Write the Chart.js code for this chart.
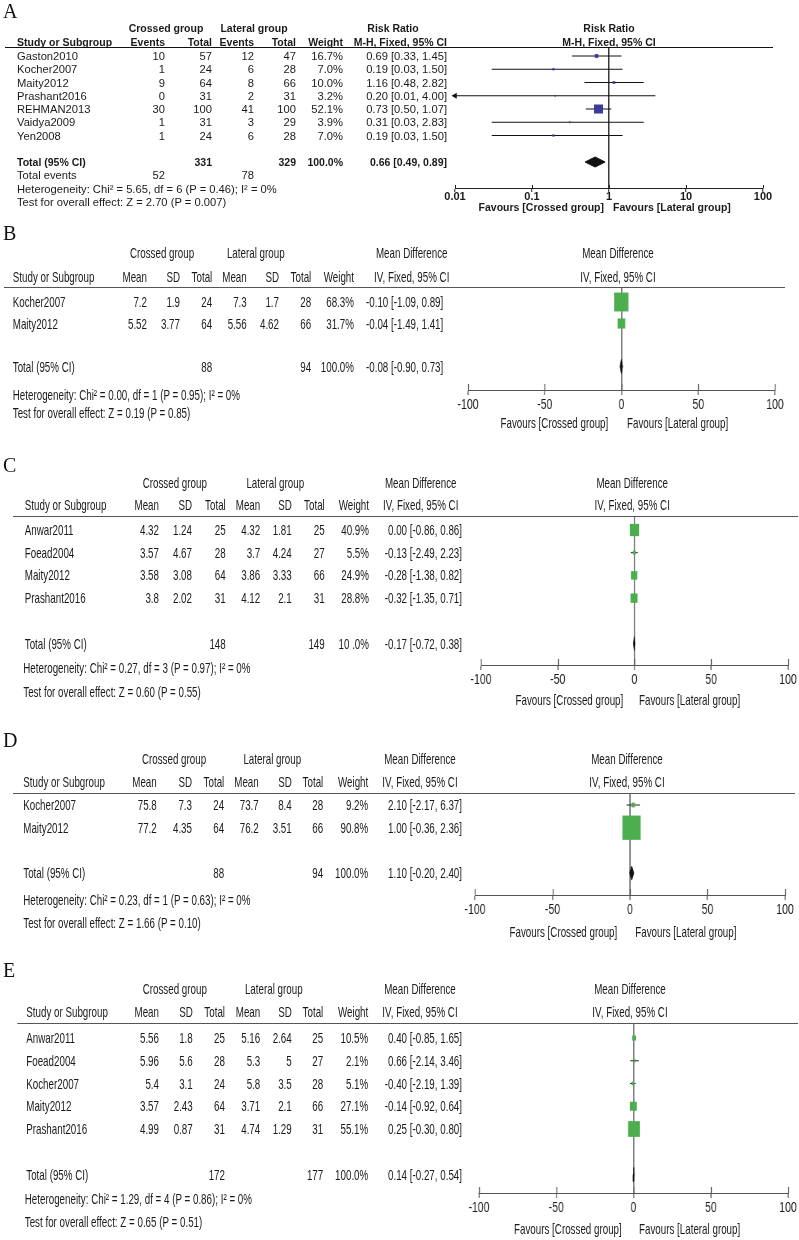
<!DOCTYPE html>
<html>
<head>
<meta charset="utf-8">
<script src="https://cdn.jsdelivr.net/npm/chart.js@4.4.1/dist/chart.umd.min.js"></script>
<style>
body { margin: 0; background: #fff; }
#fig { position: relative; width: 799px; height: 1240px; overflow: hidden; background: #fff; }
.panel { position: absolute; left: 0; transform-origin: 0 0; }
.panel canvas { position: absolute; left: 0; top: 0; }
.t { position: absolute; white-space: nowrap; color: #1a1a1a; }
.letter { position: absolute; left: 3px; font: 20px "Liberation Serif", "Times New Roman", serif; line-height: 24px; color: #111; }
</style>
</head>
<body>
<div id="fig"></div>
<script>
// ---- A: complications, risk ratio ----
var studiesA = ["Gaston2010", "Kocher2007", "Maity2012", "Prashant2016", "REHMAN2013", "Vaidya2009", "Yen2008"];
var crossEventsA = [10, 1, 9, 0, 30, 1, 1];
var crossTotalA = [57, 24, 64, 31, 100, 31, 24];
var latEventsA = [12, 6, 8, 2, 41, 3, 6];
var latTotalA = [47, 28, 66, 31, 100, 29, 28];
var weightA = [16.7, 7.0, 10.0, 3.2, 52.1, 3.9, 7.0];
var rrA = [0.69, 0.19, 1.16, 0.20, 0.73, 0.31, 0.19];
var loA = [0.33, 0.03, 0.48, 0.01, 0.50, 0.03, 0.03];
var hiA = [1.45, 1.50, 2.82, 4.00, 1.07, 2.83, 1.50];
var totalA = [0.66, 0.49, 0.89];
var totalNA = [331, 329];
var totalEventsA = [52, 78];
var hetA = "Heterogeneity: Chi\u00b2 = 5.65, df = 6 (P = 0.46); I\u00b2 = 0%";
var testA = "Test for overall effect: Z = 2.70 (P = 0.007)";
var rrTicks = [0.01, 0.1, 1, 10, 100];

// ---- B ----
var studiesB = ["Kocher2007", "Maity2012"];
var crossMeanB = [7.2, 5.52], crossSdB = [1.9, 3.77], crossNB = [24, 64];
var latMeanB = [7.3, 5.56], latSdB = [1.7, 4.62], latNB = [28, 66];
var weightB = [68.3, 31.7];
var mdB = [-0.10, -0.04], loB = [-1.09, -1.49], hiB = [0.89, 1.41];
var totalB = [-0.08, -0.90, 0.73], totalNB = [88, 94];
var hetB = "Heterogeneity: Chi\u00b2 = 0.00, df = 1 (P = 0.95); I\u00b2 = 0%";
var testB = "Test for overall effect: Z = 0.19 (P = 0.85)";

// ---- C ----
var studiesC = ["Anwar2011", "Foead2004", "Maity2012", "Prashant2016"];
var crossMeanC = [4.32, 3.57, 3.58, 3.8], crossSdC = [1.24, 4.67, 3.08, 2.02], crossNC = [25, 28, 64, 31];
var latMeanC = [4.32, 3.7, 3.86, 4.12], latSdC = [1.81, 4.24, 3.33, 2.1], latNC = [25, 27, 66, 31];
var weightC = [40.9, 5.5, 24.9, 28.8];
var mdC = [0.00, -0.13, -0.28, -0.32], loC = [-0.86, -2.49, -1.38, -1.35], hiC = [0.86, 2.23, 0.82, 0.71];
var totalC = [-0.17, -0.72, 0.38], totalNC = [148, 149];
var hetC = "Heterogeneity: Chi\u00b2 = 0.27, df = 3 (P = 0.97); I\u00b2 = 0%";
var testC = "Test for overall effect: Z = 0.60 (P = 0.55)";

// ---- D ----
var studiesD = ["Kocher2007", "Maity2012"];
var crossMeanD = [75.8, 77.2], crossSdD = [7.3, 4.35], crossND = [24, 64];
var latMeanD = [73.7, 76.2], latSdD = [8.4, 3.51], latND = [28, 66];
var weightD = [9.2, 90.8];
var mdD = [2.10, 1.00], loD = [-2.17, -0.36], hiD = [6.37, 2.36];
var totalD = [1.10, -0.20, 2.40], totalND = [88, 94];
var hetD = "Heterogeneity: Chi\u00b2 = 0.23, df = 1 (P = 0.63); I\u00b2 = 0%";
var testD = "Test for overall effect: Z = 1.66 (P = 0.10)";

// ---- E ----
var studiesE = ["Anwar2011", "Foead2004", "Kocher2007", "Maity2012", "Prashant2016"];
var crossMeanE = [5.56, 5.96, 5.4, 3.57, 4.99], crossSdE = [1.8, 5.6, 3.1, 2.43, 0.87], crossNE = [25, 28, 24, 64, 31];
var latMeanE = [5.16, 5.3, 5.8, 3.71, 4.74], latSdE = [2.64, 5, 3.5, 2.1, 1.29], latNE = [25, 27, 28, 66, 31];
var weightE = [10.5, 2.1, 5.1, 27.1, 55.1];
var mdE = [0.40, 0.66, -0.40, -0.14, 0.25], loE = [-0.85, -2.14, -2.19, -0.92, -0.30], hiE = [1.65, 3.46, 1.39, 0.64, 0.80];
var totalE = [0.14, -0.27, 0.54], totalNE = [172, 177];
var hetE = "Heterogeneity: Chi\u00b2 = 1.29, df = 4 (P = 0.86); I\u00b2 = 0%";
var testE = "Test for overall effect: Z = 0.65 (P = 0.51)";

var mdTicks = [-100, -50, 0, 50, 100];

// panels B-E are horizontally squeezed in the picture
var S = 0.75;
var TX = 0.87;   // extra condensing of the table text in B-E
var fig = document.getElementById('fig');

function addText(box, s, x, y, align, font, k) {
  var d = document.createElement('div');
  d.className = 't';
  d.textContent = s;
  d.style.font = font;
  d.style.lineHeight = '20px';
  d.style.left = x + 'px';
  d.style.top = (y - 10) + 'px';
  var sc = k ? ' scaleX(' + k + ')' : '';
  if (align === 'right') { d.style.transformOrigin = '100% 50%'; d.style.transform = 'translateX(-100%)' + sc; }
  else if (align === 'center') { d.style.transformOrigin = '50% 50%'; d.style.transform = 'translateX(-50%)' + sc; }
  else { d.style.transformOrigin = '0 50%'; if (k) d.style.transform = sc; }
  box.appendChild(d);
}

function addLine(box, x0, x1, y, color) {
  var d = document.createElement('div');
  d.style.position = 'absolute';
  d.style.left = x0 + 'px';
  d.style.width = (x1 - x0) + 'px';
  d.style.top = Math.round(y) + 'px';
  d.style.height = '0';
  d.style.borderTop = '1px solid ' + color;
  box.appendChild(d);
}

function addLetter(ch, y) {
  var d = document.createElement('div');
  d.className = 'letter';
  d.textContent = ch;
  d.style.top = (y - 12) + 'px';
  fig.appendChild(d);
}

function makePanel(top, height, sx) {
  var w = Math.round(799 / sx);
  var box = document.createElement('div');
  box.className = 'panel';
  box.style.top = top + 'px';
  box.style.width = w + 'px';
  box.style.height = height + 'px';
  if (sx !== 1) box.style.transform = 'scaleX(' + sx + ')';
  var cv = document.createElement('canvas');
  cv.width = w;
  cv.height = height;
  box.appendChild(cv);
  fig.appendChild(box);
  return { box: box, canvas: cv };
}

function ciLabel(m, lo, hi) {
  return m.toFixed(2) + ' [' + lo.toFixed(2) + ', ' + hi.toFixed(2) + ']';
}

// short tick marks above the axis line
var upTicks = {
  id: 'upTicks',
  afterDraw: function (chart, args, opts) {
    var sc = chart.scales.x, c = chart.ctx, y = chart.chartArea.bottom;
    c.save();
    c.strokeStyle = opts.color;
    c.lineWidth = opts.width;
    sc.ticks.forEach(function (t) {
      var px = Math.round(sc.getPixelForValue(t.value)) + 0.5;
      c.beginPath();
      c.moveTo(px, y);
      c.lineTo(px, y - opts.len);
      c.stroke();
    });
    c.restore();
  }
};

function forestChart(canvas, o) {
  return new Chart(canvas, {
    type: 'scatter',
    data: { datasets: o.datasets },
    options: {
      responsive: false,
      animation: false,
      events: [],
      devicePixelRatio: 1,
      layout: { padding: { left: o.axL, right: canvas.width - o.axR, top: o.lineY, bottom: 0 } },
      plugins: {
        legend: { display: false },
        tooltip: { enabled: false },
        upTicks: { color: o.axisColor, len: o.upLen, width: o.tickWidth }
      },
      scales: {
        x: {
          type: o.type, min: o.ticks[0], max: o.ticks[o.ticks.length - 1], bounds: 'data',
          afterBuildTicks: function (sc) { sc.ticks = o.ticks.map(function (v) { return { value: v }; }); },
          afterFit: function (sc) { sc.height = canvas.height - o.axisY; },
          ticks: {
            font: o.tickFont, color: '#1a1a1a', padding: o.tickPad, maxRotation: 0, autoSkip: false,
            callback: function (v) { return String(v); }
          },
          grid: {
            drawOnChartArea: true,
            color: function (c) { return c.tick && c.tick.value === o.ref ? o.refColor : 'rgba(0,0,0,0)'; },
            lineWidth: o.refWidth,
            tickColor: o.axisColor, tickLength: o.tickLen, tickWidth: o.tickWidth
          },
          border: { display: true, color: o.axisColor, width: 1 }
        },
        y: {
          type: 'linear', reverse: true, display: false,
          min: (o.lineY - o.row0) / o.rowH, max: (o.axisY - o.row0) / o.rowH
        }
      }
    },
    plugins: [upTicks]
  });
}

function studyDatasets(est, lo, hi, weight, tot, sizeOf, color, lineColor, halfH, rowH) {
  var ds = [];
  est.forEach(function (v, i) {
    ds.push({ data: [{ x: lo[i], y: i }, { x: hi[i], y: i }], showLine: true, borderColor: lineColor,
      borderWidth: 1, pointRadius: 0, clip: false, order: 1 });
  });
  // squares and diamond drawn over the CI lines
  ds.push({ data: est.map(function (v, i) { return { x: v, y: i }; }), pointStyle: 'rect',
    pointRadius: weight.map(function (w) { return sizeOf(w) / Math.SQRT2; }),
    pointBackgroundColor: color, backgroundColor: color, pointBorderWidth: 0, clip: false, order: 0 });
  var r = est.length + 1, dh = halfH / rowH;
  ds.push({ data: [{ x: tot[1], y: r }, { x: tot[0], y: r - dh }, { x: tot[2], y: r }, { x: tot[0], y: r + dh }, { x: tot[1], y: r }],
    showLine: true, fill: 'shape', backgroundColor: '#111', borderColor: '#111', borderWidth: 1,
    pointRadius: 0, tension: 0, clip: false, order: 0 });
  return ds;
}

// ---------- panel A ----------
var LA = { top: 0, height: 212, letterY: 11, h1: 28, h2: 42, lineY: 47, line0: 5, line1: 773,
  row0: 56, rowH: 13.25, events: 175, het: 188.5, test: 201.5, axisY: 188, axL: 455, axR: 763,
  favY: 207, favL: 604, favR: 613,
  col: { study: 17, ce: 165, cn: 212, le: 254, ln: 296, w: 343, ci: 447, crossHead: 166, latHead: 254, ciHead: 393, plotHead: 609 } };

(function () {
  var L = LA, c = L.col, P = makePanel(L.top, L.height, 1);
  var fb = 'bold 10.5px "Liberation Sans", Arial, sans-serif';
  var fn = '11.2px "Liberation Sans", Arial, sans-serif';
  addLetter('A', L.letterY);
  addText(P.box, 'Crossed group', c.crossHead, L.h1, 'center', fb);
  addText(P.box, 'Lateral group', c.latHead, L.h1, 'center', fb);
  addText(P.box, 'Risk Ratio', c.ciHead, L.h1, 'center', fb);
  addText(P.box, 'Risk Ratio', c.plotHead, L.h1, 'center', fb);
  [['Study or Subgroup', c.study, 'left'], ['Events', c.ce, 'right'], ['Total', c.cn, 'right'],
   ['Events', c.le, 'right'], ['Total', c.ln, 'right'], ['Weight', c.w, 'right'],
   ['M-H, Fixed, 95% CI', c.ci, 'right']].forEach(function (h) {
    addText(P.box, h[0], h[1], L.h2, h[2], fb);
  });
  addText(P.box, 'M-H, Fixed, 95% CI', c.plotHead, L.h2, 'center', fb);
  addLine(P.box, L.line0, L.line1, L.lineY, '#111');
  studiesA.forEach(function (s, i) {
    var y = L.row0 + i * L.rowH;
    addText(P.box, s, c.study, y, 'left', fn);
    addText(P.box, String(crossEventsA[i]), c.ce, y, 'right', fn);
    addText(P.box, String(crossTotalA[i]), c.cn, y, 'right', fn);
    addText(P.box, String(latEventsA[i]), c.le, y, 'right', fn);
    addText(P.box, String(latTotalA[i]), c.ln, y, 'right', fn);
    addText(P.box, weightA[i].toFixed(1) + '%', c.w, y, 'right', fn);
    addText(P.box, ciLabel(rrA[i], loA[i], hiA[i]), c.ci, y, 'right', fn);
  });
  var ty = L.row0 + (studiesA.length + 1) * L.rowH;
  addText(P.box, 'Total (95% CI)', c.study, ty, 'left', fb);
  addText(P.box, String(totalNA[0]), c.cn, ty, 'right', fb);
  addText(P.box, String(totalNA[1]), c.ln, ty, 'right', fb);
  addText(P.box, '100.0%', c.w, ty, 'right', fb);
  addText(P.box, ciLabel(totalA[0], totalA[1], totalA[2]), c.ci, ty, 'right', fb);
  addText(P.box, 'Total events', c.study, L.events, 'left', fn);
  addText(P.box, String(totalEventsA[0]), c.ce, L.events, 'right', fn);
  addText(P.box, String(totalEventsA[1]), c.le, L.events, 'right', fn);
  addText(P.box, hetA, c.study, L.het, 'left', fn);
  addText(P.box, testA, c.study, L.test, 'left', fn);
  addText(P.box, 'Favours [Crossed group]', L.favL, L.favY, 'right', fb);
  addText(P.box, 'Favours [Lateral group]', L.favR, L.favY, 'left', fb);

  var ds = studyDatasets(rrA, loA, hiA, weightA, totalA, function (w) { return 1.2 + 0.15 * w; },
    '#3b3b9b', '#111', 5, L.rowH);
  // arrow where a CI runs off the left end of the axis
  var arrows = [];
  loA.forEach(function (v, i) { if (v <= rrTicks[0]) arrows.push({ x: rrTicks[0], y: i }); });
  ds.push({ data: arrows, pointStyle: 'triangle', pointRotation: -90, pointRadius: 3.5,
    pointBackgroundColor: '#111', backgroundColor: '#111', pointBorderWidth: 0, clip: false });

  forestChart(P.canvas, {
    type: 'logarithmic', ticks: rrTicks, ref: 1, refColor: '#3a3a3a', refWidth: 1.5,
    axL: L.axL, axR: L.axR, lineY: L.lineY - L.top, axisY: L.axisY - L.top,
    row0: L.row0 - L.top, rowH: L.rowH, datasets: ds,
    tickFont: { family: 'Liberation Sans', size: 11, weight: 'bold' }, tickPad: -2,
    axisColor: '#222', tickLen: 4, upLen: 3, tickWidth: 1
  });
})();

// ---------- panels B-E ----------
function mdPanel(L, letter, d) {
  var P = makePanel(L.top, L.height, S);
  var X = function (v) { return v / S; };
  var Y = function (v) { return v - L.top; };
  var c = L.col;
  var f = '15px "Liberation Sans", Arial, sans-serif';
  var put = function (s, x, y, align) { addText(P.box, s, X(x), Y(y), align, f, TX); };
  addLetter(letter, L.letterY);
  put('Crossed group', c.crossHead, L.h1, 'center');
  put('Lateral group', c.latHead, L.h1, 'center');
  put('Mean Difference', c.ciHead, L.h1, 'center');
  put('Mean Difference', c.plotHead, L.h1, 'center');
  [['Study or Subgroup', c.study, 'left'], ['Mean', c.cm, 'right'], ['SD', c.csd, 'right'],
   ['Total', c.cn, 'right'], ['Mean', c.lm, 'right'], ['SD', c.lsd, 'right'], ['Total', c.ln, 'right'],
   ['Weight', c.w, 'right']].forEach(function (h) {
    put(h[0], h[1], L.h2, h[2]);
  });
  put('IV, Fixed, 95% CI', c.ciHead, L.h2, 'center');
  put('IV, Fixed, 95% CI', c.plotHead, L.h2, 'center');
  addLine(P.box, X(L.line0), X(L.line1), Y(L.lineY), '#555');
  d.studies.forEach(function (s, i) {
    var y = L.row0 + i * L.rowH;
    put(s, c.study, y, 'left');
    put(String(d.cm[i]), c.cm, y, 'right');
    put(String(d.csd[i]), c.csd, y, 'right');
    put(String(d.cn[i]), c.cn, y, 'right');
    put(String(d.lm[i]), c.lm, y, 'right');
    put(String(d.lsd[i]), c.lsd, y, 'right');
    put(String(d.ln[i]), c.ln, y, 'right');
    put(d.w[i].toFixed(1) + '%', c.w, y, 'right');
    put(ciLabel(d.md[i], d.lo[i], d.hi[i]), c.ci, y, 'right');
  });
  var ty = L.row0 + (d.studies.length + 1) * L.rowH;
  put('Total (95% CI)', c.study, ty, 'left');
  put(String(d.totN[0]), c.cn, ty, 'right');
  put(String(d.totN[1]), c.ln, ty, 'right');
  put(d.totW, c.w, ty, 'right');
  put(ciLabel(d.tot[0], d.tot[1], d.tot[2]), c.ci, ty, 'right');
  put(d.het, L.foot, L.het, 'left');
  put(d.test, L.foot, L.test, 'left');
  put('Favours [Crossed group]', L.favL, L.favY, 'right');
  put('Favours [Lateral group]', L.favR, L.favY, 'left');

  var ds = studyDatasets(d.md, d.lo, d.hi, d.w, d.tot, function (w) { return 2.5 + 0.24 * w; },
    '#4cae4f', '#222', 7, L.rowH);
  forestChart(P.canvas, {
    type: 'linear', ticks: mdTicks, ref: 0, refColor: '#808080', refWidth: 2,
    axL: X(L.axL), axR: X(L.axR), lineY: Y(L.lineY), axisY: Y(L.axisY),
    row0: Y(L.row0), rowH: L.rowH, datasets: ds,
    tickFont: { family: 'Liberation Sans', size: 14 }, tickPad: 2,
    axisColor: '#555', tickLen: 5, upLen: 6, tickWidth: 1.3
  });
}

mdPanel({ top: 212, height: 213, letterY: 233, h1: 253, h2: 277, lineY: 287, line0: 4, line1: 785,
  row0: 302, rowH: 21.5, foot: 13, het: 395, test: 413, axisY: 390, axL: 468, axR: 775,
  favY: 423, favL: 608, favR: 627,
  col: { study: 13, cm: 147, csd: 180, cn: 212, lm: 247, lsd: 279, ln: 311, w: 354, ci: 443,
    crossHead: 162, latHead: 256, ciHead: 412, plotHead: 618 } }, 'B',
  { studies: studiesB, cm: crossMeanB, csd: crossSdB, cn: crossNB, lm: latMeanB, lsd: latSdB, ln: latNB,
    w: weightB, md: mdB, lo: loB, hi: hiB, tot: totalB, totN: totalNB, totW: '100.0%', het: hetB, test: testB });

mdPanel({ top: 425, height: 287, letterY: 465, h1: 483, h2: 505, lineY: 516, line0: 13, line1: 798,
  row0: 530, rowH: 22.7, foot: 23, het: 668, test: 692, axisY: 665, axL: 481, axR: 788,
  favY: 700, favL: 623, favR: 639,
  col: { study: 25, cm: 159, csd: 192, cn: 226, lm: 260, lsd: 292, ln: 325, w: 369, ci: 462,
    crossHead: 175, latHead: 275, ciHead: 421, plotHead: 632 } }, 'C',
  { studies: studiesC, cm: crossMeanC, csd: crossSdC, cn: crossNC, lm: latMeanC, lsd: latSdC, ln: latNC,
    w: weightC, md: mdC, lo: loC, hi: hiC, tot: totalC, totN: totalNC, totW: '10 .0%', het: hetC, test: testC });

mdPanel({ top: 712, height: 230, letterY: 740, h1: 759, h2: 782, lineY: 793, line0: 13, line1: 795,
  row0: 805, rowH: 22.7, foot: 23, het: 900, test: 923, axisY: 895, axL: 475, axR: 785,
  favY: 932, favL: 617, favR: 635,
  col: { study: 23, cm: 157, csd: 192, cn: 224, lm: 259, lsd: 292, ln: 323, w: 368, ci: 462,
    crossHead: 174, latHead: 272, ciHead: 420, plotHead: 627 } }, 'D',
  { studies: studiesD, cm: crossMeanD, csd: crossSdD, cn: crossND, lm: latMeanD, lsd: latSdD, ln: latND,
    w: weightD, md: mdD, lo: loD, hi: hiD, tot: totalD, totN: totalND, totW: '100.0%', het: hetD, test: testD });

mdPanel({ top: 942, height: 298, letterY: 970, h1: 989, h2: 1012, lineY: 1023, line0: 17, line1: 798,
  row0: 1038, rowH: 22.75, foot: 25, het: 1199, test: 1222, axisY: 1193, axL: 479, axR: 788,
  favY: 1229, favL: 622, favR: 639,
  col: { study: 26, cm: 159, csd: 193, cn: 225, lm: 260, lsd: 292, ln: 323, w: 368, ci: 462,
    crossHead: 175, latHead: 274, ciHead: 420, plotHead: 630 } }, 'E',
  { studies: studiesE, cm: crossMeanE, csd: crossSdE, cn: crossNE, lm: latMeanE, lsd: latSdE, ln: latNE,
    w: weightE, md: mdE, lo: loE, hi: hiE, tot: totalE, totN: totalNE, totW: '100.0%', het: hetE, test: testE });
</script>
</body>
</html>
